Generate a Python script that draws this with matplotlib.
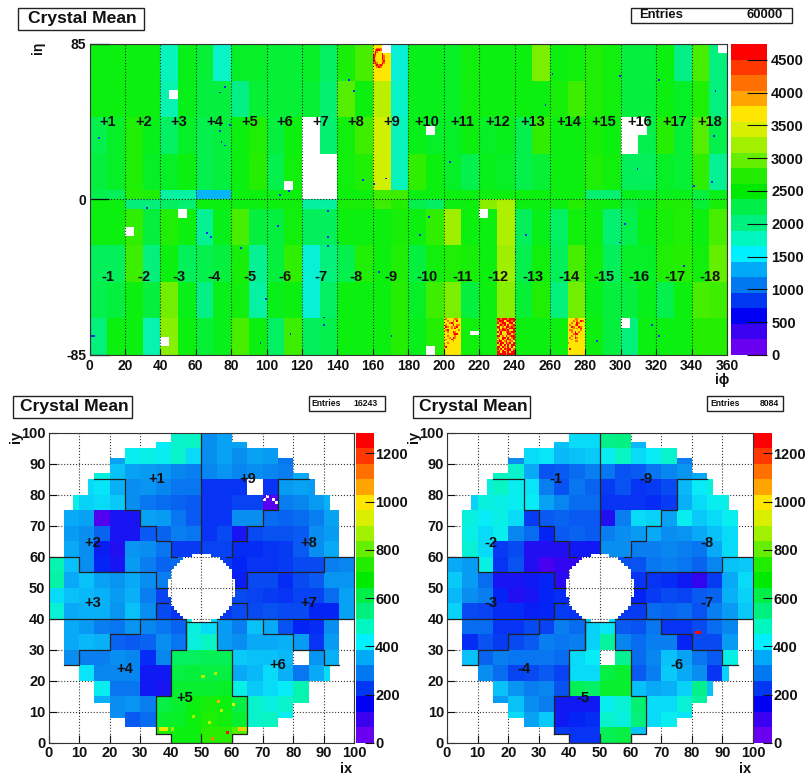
import matplotlib
matplotlib.use('Agg')
import matplotlib.pyplot as plt, numpy as np
from matplotlib.colors import ListedColormap, BoundaryNorm, LinearSegmentedColormap, Normalize
from matplotlib.patches import Rectangle

W, H = 806, 775
plt.rcParams['font.family'] = ['Liberation Sans', 'DejaVu Sans']
plt.rcParams['font.weight'] = 'bold'
plt.rcParams['axes.unicode_minus'] = False

palette = ['#6a00f0', '#3a00f0', '#0000f5', '#0038f2', '#0078f0', '#00aaf8', '#00f0ff', '#00f8c0',
           '#00f080', '#00ee48', '#00ea00', '#22ec00', '#66ee00', '#a0f000', '#d8f000', '#ffe600',
           '#ffa400', '#ff7000', '#ff3800', '#ff0000']
# the same palette as it looks once noisy crystals are averaged by eye (used on the maps only)
map_palette = ['#6a00f0', '#3a00f0', '#0420f5', '#0850f2', '#0888f0', '#08b4f8', '#08ecf8', '#08f4c0',
               '#04f084', '#04f04c', '#08f010', '#28ee00', '#66ee00', '#a0f000', '#d8f000', '#ffe600',
               '#ffa400', '#ff7000', '#ff3800', '#ff0000']

# barrel: mean per half supermodule (10 phi wide), one list per eta band, top to bottom
eta_edges = [85, 65, 45, 25, 5, 0, -5, -25, -45, -65, -85]
eb_p65 = [2500, 2500, 2500, 2500, 1780, 2450, 2350, 1750, 2400, 2400, 2350, 2350, 2400, 2150, 2600, 2850, 3500, 1700,
          2450, 2450, 2400, 2550, 2500, 2500, 2500, 3050, 2500, 2550, 2650, 2550, 2300, 2300, 2500, 2000, 2850, 2050]
eb_p45 = [2500, 2500, 2500, 2500, 1850, 2450, 2300, 2300, 2000, 2350, 2350, 2350, 2350, 2100, 2900, 2500, 3300, 1750,
          2450, 2450, 2400, 2550, 2500, 2500, 2500, 2500, 2600, 2800, 2650, 2550, 2300, 2300, 2500, 2400, 2650, 2050]
eb_p25 = [2250, 2400, 2650, 2450, 2150, 2400, 2250, 2300, 2500, 2650, 2300, 2500, 2400, 2100, 2550, 2800, 3400, 1800,
          2450, 2400, 2400, 2500, 2400, 2450, 2250, 2750, 2500, 2500, 2600, 2500, 2200, 2250, 2700, 2350, 2900, 2250]
eb_p05 = [2300, 2400, 2650, 2400, 2400, 2500, 2250, 2300, 2500, 2700, 2250, 2550, 2350, 2100, 2550, 2650, 3400, 1800,
          2750, 2500, 2400, 2250, 2450, 2400, 2250, 2350, 2500, 2500, 2650, 2550, 2200, 2200, 2400, 2350, 2750, 1950]
eb_p00 = [2250, 2200, 2700, 2650, 1900, 1900, 1300, 1300, 2500, 2500, 2450, 2500, 2400, 2400, 2500, 2500, 2800, 2800,
          2500, 2500, 2500, 2500, 2500, 2500, 2500, 2500, 2500, 2500, 2100, 2100, 2450, 2400, 2450, 2450, 2300, 2450]
eb_m00 = [2500, 2500, 2050, 2050, 2150, 2100, 2500, 2500, 2500, 2500, 2500, 2550, 1900, 1900, 2600, 2600, 2800, 2700,
          2250, 2150, 2500, 2500, 3100, 3250, 2500, 2500, 2500, 2700, 2550, 2500, 2300, 2400, 2650, 2650, 2350, 2600]
eb_m05 = [2500, 2500, 2750, 2300, 2650, 2500, 1950, 2450, 2850, 2300, 2300, 2550, 2200, 2200, 2500, 2500, 2500, 2600,
          2500, 2750, 3200, 2500, 2500, 3250, 2200, 2450, 2150, 2550, 2500, 2100, 2250, 2450, 2600, 2650, 2500, 2850]
eb_m25 = [2200, 2200, 2800, 2050, 2500, 2200, 2250, 2300, 2600, 1950, 2300, 2750, 1700, 2050, 2250, 2650, 2500, 2650,
          2300, 2550, 2650, 2600, 2500, 3200, 2250, 2550, 2200, 2850, 2550, 2200, 2400, 2400, 2650, 2700, 2550, 2950]
eb_m45 = [2250, 2300, 2500, 2300, 3000, 2450, 2000, 2450, 2550, 1900, 2450, 2500, 1700, 2150, 2500, 2500, 2500, 2700,
          2400, 2800, 3050, 2300, 2500, 3100, 2350, 2650, 2050, 3000, 2450, 2300, 2300, 2450, 2250, 2500, 2850, 2800]
eb_m65 = [2050, 2500, 2500, 1850, 3100, 2500, 2350, 2450, 2850, 2500, 2150, 2800, 2200, 2250, 2500, 2500, 2500, 2700,
          2450, 2700, 3400, 2550, 2500, 4000, 2500, 2500, 2500, 3200, 2500, 2300, 2050, 2500, 2500, 2500, 2700, 2700]

# barrel crystals that stand out (digit: 7 yellow, 8 orange, 9 red)
digit_value = {'7': 3650, '8': 4150, '9': 4650}
hot_phi = [160, 200, 230, 270]
hot_eta = [85, -65, -65, -65]
hot_160 = ['7777700000', '7777700000', '7788800000', '7899877777', '7987797777', '8977797777', '9877798777', '9777798777',
           '9777798777', '9877789777', '8987798777', '7898987777', '7789877777', '7777777777', '7777777777', '7777777777',
           '7777777777', '7777777777', '7777777777', '7777777777']
hot_200 = ['7877778877', '7787787977', '7778987777', '7877797887', '7987878977', '8777879777', '7897777787', '7787798777',
           '7777789977', '7787778777', '7778798777', '7877987777', '7777787777', '7787777777', '8777777777', '7977777777',
           '7777777777', '7777777777', '7777777777', '7777777777']
hot_230 = ['9989998999', '8999789989', '9789977997', '7898979789', '9978799898', '8979897999', '7989989779', '9797789899',
           '7897779978', '9978797899', '8779979789', '7979789979', '8997897887', '9799798979', '7897979799', '9979879797',
           '9797989978', '8979789979', '9979979799', '9999989999']
hot_270 = ['7777887777', '7778787987', '7787798777', '7877897777', '7798779877', '7778787977', '7887777877', '7787978777',
           '7778997777', '7787877777', '7877987777', '7787777777', '7777887777', '8777777777', '7777777777', '7777777777',
           '7977777777', '7777777777', '7777777777', '7777777777']
low_phi = [5, 76, 73, 79, 73, 74, 76, 146, 149, 154, 167, 160, 107, 112, 261, 299, 321, 257, 203, 309, 353, 352, 341, 351,
           32, 66, 68, 85, 106, 134, 134, 134, 140, 99, 113, 132, 132, 96, 163, 170, 0, 1, 2, 191, 186, 246, 240, 302, 299, 335, 317, 321, 286]
low_eta = [33, 61, 58, 40, 37, 31, 29, 65, 59, 10, 11, 8, 2, 4, 68, 67, 65, 51, 20, 16, 59, 34, 7, 9,
           -5, -19, -21, -27, -15, -7, -21, -26, -24, -55, -74, -65, -69, -79, -40, -75, -75, -75, -75, -10, -20, -20, -29, -14, -24, -37, -69, -75, -78]
# barrel holes: phi from, phi to, eta from, eta to
dead_phi0 = [45, 120, 120, 130, 165, 110, 190, 355, 300, 310, 50, 20, 40, 220, 215, 190, 300]
dead_phi1 = [50, 130, 130, 140, 170, 115, 195, 360, 310, 315, 55, 25, 45, 225, 220, 195, 305]
dead_eta0 = [55, 25, 0, 0, 80, 5, 35, 80, 25, 35, -10, -20, -80, -10, -74, -85, -70]
dead_eta1 = [60, 45, 25, 25, 85, 10, 40, 85, 45, 45, -5, -15, -75, -5, -72, -80, -65]

eb_phi_ticks = list(range(0, 361, 20))
eb_plus_x = [10 + 20 * i for i in range(18)]
sm_plus = ['+%d' % (i + 1) for i in range(18)]
sm_minus = ['-%d' % (i + 1) for i in range(18)]

# endcaps: mean per 5x5 block, rows from y=95-100 down to y=0-5
ee_plus = [
    [0, 0, 0, 0, 0, 0, 0, 420, 470, 480, 300, 330, 330, 0, 0, 0, 0, 0, 0, 0],
    [0, 0, 0, 0, 330, 430, 440, 430, 470, 400, 300, 330, 300, 330, 320, 270, 0, 0, 0, 0],
    [0, 0, 0, 450, 370, 330, 320, 310, 290, 280, 290, 310, 290, 300, 290, 280, 340, 0, 0, 0],
    [0, 0, 400, 410, 350, 300, 310, 290, 270, 270, 190, 190, 190, 190, 190, 320, 330, 320, 0, 0],
    [0, 440, 390, 400, 380, 300, 270, 260, 250, 240, 190, 190, 210, 210, 60, 280, 290, 320, 350, 0],
    [0, 340, 330, 70, 140, 140, 330, 320, 270, 240, 190, 190, 300, 300, 260, 250, 260, 280, 330, 0],
    [0, 320, 300, 250, 140, 140, 240, 250, 280, 270, 190, 220, 140, 220, 230, 230, 240, 300, 320, 0],
    [0, 340, 300, 160, 130, 310, 300, 270, 200, 200, 210, 210, 180, 180, 190, 200, 240, 300, 340, 0],
    [500, 370, 300, 170, 140, 320, 280, 250, 260, 260, 200, 200, 170, 190, 190, 200, 220, 220, 280, 290],
    [510, 340, 370, 330, 310, 340, 300, 280, 200, 200, 200, 200, 160, 220, 220, 180, 220, 240, 310, 310],
    [400, 370, 360, 350, 320, 350, 280, 210, 200, 200, 200, 200, 220, 210, 200, 190, 210, 210, 260, 330],
    [460, 340, 350, 350, 310, 370, 300, 220, 190, 190, 200, 200, 220, 220, 230, 220, 220, 170, 170, 330],
    [0, 340, 320, 280, 270, 310, 290, 270, 250, 450, 400, 320, 280, 370, 340, 230, 170, 180, 300, 0],
    [0, 340, 360, 350, 250, 240, 250, 300, 270, 450, 480, 320, 300, 340, 340, 350, 320, 190, 320, 0],
    [0, 300, 280, 280, 300, 290, 180, 290, 590, 590, 600, 600, 380, 370, 370, 360, 0, 310, 350, 0],
    [0, 0, 410, 290, 290, 290, 150, 150, 620, 630, 620, 620, 340, 360, 400, 350, 270, 340, 400, 0],
    [0, 0, 0, 430, 270, 270, 150, 140, 640, 640, 640, 650, 440, 380, 400, 420, 500, 0, 0, 0],
    [0, 0, 0, 350, 300, 310, 280, 620, 640, 680, 700, 680, 620, 470, 450, 470, 500, 0, 0, 0],
    [0, 0, 0, 0, 300, 240, 260, 640, 650, 680, 720, 690, 640, 470, 480, 430, 0, 0, 0, 0],
    [0, 0, 0, 0, 0, 0, 0, 720, 680, 680, 740, 740, 780, 640, 0, 0, 0, 0, 0, 0]]
ee_minus = [
    [0, 0, 0, 0, 0, 0, 0, 370, 400, 400, 540, 550, 360, 0, 0, 0, 0, 0, 0, 0],
    [0, 0, 0, 0, 300, 400, 410, 360, 370, 380, 430, 480, 400, 420, 470, 280, 0, 0, 0, 0],
    [0, 0, 0, 480, 470, 340, 230, 240, 260, 280, 270, 230, 240, 270, 290, 310, 340, 0, 0, 0],
    [0, 0, 450, 480, 430, 410, 280, 230, 270, 250, 200, 230, 190, 200, 220, 360, 420, 450, 0, 0],
    [0, 390, 450, 440, 430, 420, 330, 290, 260, 260, 190, 190, 190, 180, 200, 350, 400, 430, 440, 0],
    [0, 450, 420, 440, 400, 200, 240, 250, 240, 240, 130, 280, 400, 390, 330, 430, 380, 400, 430, 0],
    [0, 440, 400, 430, 290, 260, 170, 240, 250, 240, 280, 300, 320, 340, 300, 310, 340, 370, 400, 0],
    [0, 460, 400, 200, 220, 130, 130, 130, 150, 150, 300, 300, 280, 280, 290, 280, 270, 340, 400, 0],
    [340, 320, 440, 190, 230, 130, 80, 110, 110, 110, 230, 230, 230, 270, 280, 270, 250, 290, 370, 380],
    [380, 320, 260, 140, 140, 150, 170, 120, 120, 120, 190, 190, 190, 190, 180, 150, 110, 200, 340, 400],
    [360, 300, 280, 170, 130, 140, 170, 180, 180, 180, 170, 170, 170, 200, 220, 210, 240, 250, 350, 390],
    [390, 220, 210, 180, 180, 160, 170, 200, 190, 190, 200, 200, 200, 260, 250, 260, 230, 280, 320, 380],
    [0, 260, 260, 190, 190, 220, 210, 280, 260, 390, 410, 240, 230, 270, 190, 190, 220, 260, 290, 0],
    [0, 180, 230, 200, 220, 240, 280, 270, 280, 390, 520, 290, 260, 280, 280, 170, 220, 220, 320, 0],
    [0, 370, 250, 280, 270, 270, 270, 260, 400, 420, 0, 530, 260, 290, 370, 330, 270, 240, 440, 0],
    [0, 0, 300, 260, 210, 220, 240, 210, 400, 400, 620, 640, 240, 280, 380, 340, 300, 190, 390, 0],
    [0, 0, 0, 370, 310, 280, 290, 230, 600, 580, 640, 640, 370, 340, 350, 390, 540, 370, 0, 0],
    [0, 0, 0, 320, 370, 300, 280, 150, 150, 150, 430, 460, 570, 400, 400, 460, 520, 0, 0, 0],
    [0, 0, 0, 0, 400, 330, 380, 150, 170, 180, 470, 450, 560, 400, 430, 410, 0, 0, 0, 0],
    [0, 0, 0, 0, 0, 0, 0, 200, 190, 190, 600, 620, 370, 400, 0, 0, 0, 0, 0, 0]]
# single endcap crystals that stand out
ee_plus_hot_x = [36, 37, 38, 40, 58, 53, 62, 63, 47, 55, 60, 56, 64, 52, 50, 54]
ee_plus_hot_y = [4, 4, 4, 4, 3, 1, 4, 4, 8, 13, 12, 10, 4, 6, 21, 22]
ee_plus_hot_v = [960, 960, 960, 860, 1240, 1100, 1020, 1020, 880, 1050, 950, 900, 900, 900, 880, 880]
ee_minus_hot_x = [81, 82]
ee_minus_hot_y = [35, 35]
ee_minus_hot_v = [1240, 1240]
# outer edge of the endcap: half width from x=50 for each band of distance from y=50
rim_dy = [50, 47, 45, 42, 37, 35, 30, 25, 15, 10]
rim_hw = [10, 15, 25, 30, 35, 37, 42, 45, 47, 50]
# sector boundaries, one polyline each (x list, y list)
sector_x = [[50, 50], [50, 50], [15, 25, 25, 30, 30, 35, 35, 40, 40, 42], [0, 10, 10, 35, 35, 39],
            [0, 35, 35, 39], [5, 10, 10, 20, 20, 30, 30, 45, 45], [35, 35, 40, 40, 45, 45, 55, 55, 60, 60, 65, 65, 60, 60, 40, 40, 35],
            [55, 70, 70, 80, 80, 90, 90, 95], [61, 65, 65, 90, 90, 100], [60, 65, 65, 100], [58, 60, 60, 65, 65, 70, 70, 75, 75, 85]]
sector_y = [[61, 100], [0, 3], [85, 85, 75, 75, 70, 70, 65, 65, 60, 60], [60, 60, 55, 55, 50, 50],
            [40, 40, 45, 45], [25, 25, 30, 30, 35, 35, 40, 40, 30], [3, 15, 15, 30, 30, 39, 39, 30, 30, 15, 15, 3, 3, 0, 0, 3, 3],
            [40, 40, 35, 35, 30, 30, 25, 25], [50, 50, 55, 55, 60, 60], [45, 45, 40, 40], [60, 60, 65, 65, 70, 70, 75, 75, 85, 85]]
ee_plus_labels = ['+1', '+2', '+3', '+4', '+5', '+6', '+7', '+8', '+9']
ee_minus_labels = ['-1', '-2', '-3', '-4', '-5', '-6', '-7', '-8', '-9']
ee_label_x = [35.5, 14.5, 14.5, 25, 44.5, 75, 85, 85, 65]
ee_label_y = [85, 64.5, 45, 24, 14.5, 25, 45, 64.5, 85]
ee_plus_dead_x = [65, 66, 67, 68, 69, 70, 71, 73, 74, 80, 81, 82, 83, 84, 85, 86]
ee_plus_dead_y = [80, 80, 80, 80, 80, 78, 79, 78, 77, 25, 25, 25, 25, 25, 15, 15]

eb_ticks = [0, 500, 1000, 1500, 2000, 2500, 3000, 3500, 4000, 4500]
ee_ticks = [0, 200, 400, 600, 800, 1000, 1200]
ee_axis_ticks = list(range(0, 101, 10))


def px_axes(fig, left, top, right, bottom):
    return fig.add_axes([left / W, 1 - bottom / H, (right - left) / W, (bottom - top) / H])


def box_text(fig, x0, y0, x1, y1, txt, size, pad=10):
    fig.add_artist(Rectangle((x0 / W, 1 - y1 / H), (x1 - x0) / W, (y1 - y0) / H, transform=fig.transFigure,
                             fc='white', ec='#222222', lw=1))
    fig.text((x0 + pad) / W, 1 - (y0 + y1) / 2 / H, txt, fontsize=size, va='center', color='#111111')


def entries(fig, x0, y0, x1, y1, n, size, pad, inset):
    box_text(fig, x0, y0, x1, y1, 'Entries', size, pad=pad)
    fig.text((x1 - inset) / W, 1 - (y0 + y1) / 2 / H, n, fontsize=size, va='center', ha='right', color='#111111')


def smooth_map():
    # tower means stand for a mix of noisy crystals, so the map blends the palette
    stops = [(i + 0.5) / 20 for i in range(20)]
    return LinearSegmentedColormap.from_list('mix', [(0, map_palette[0])] + list(zip(stops, map_palette)) + [(1, map_palette[-1])])


def colorbar(fig, rect, edges, ticks, tick_len, size, pad):
    ax = px_axes(fig, *rect)
    ax.pcolormesh([0, 1], edges, np.array(edges[:-1]).reshape(-1, 1) + 1,
                  cmap=ListedColormap(palette), norm=BoundaryNorm(edges, 20))
    ax.set_ylim(edges[0], edges[-1])
    ax.set_xticks([])
    ax.yaxis.tick_right()
    ax.set_yticks(ticks)
    ax.tick_params(axis='y', direction='in', length=tick_len * 0.72, width=0.8, pad=pad, labelsize=size, colors='#111111')
    for s in ax.spines.values():
        s.set_visible(False)


def draw_barrel(fig):
    grid = np.zeros((170, 360))
    rows = [eb_p65, eb_p45, eb_p25, eb_p05, eb_p00, eb_m00, eb_m05, eb_m25, eb_m45, eb_m65]
    for r, vals in enumerate(rows):
        i0, i1 = eta_edges[r + 1] + 85, eta_edges[r] + 85
        for c, v in enumerate(vals):
            grid[i0:i1, c * 10:c * 10 + 10] = v
    for phi, top, block in zip(hot_phi, hot_eta, [hot_160, hot_200, hot_230, hot_270]):
        for r, line in enumerate(block):
            for c, ch in enumerate(line):
                if ch != '0':
                    grid[top + 85 - 1 - r, phi + c] = digit_value[ch]
    for p, e in zip(low_phi, low_eta):
        grid[e + 85, p] = 650
    mask = np.zeros(grid.shape, bool)
    for p0, p1, e0, e1 in zip(dead_phi0, dead_phi1, dead_eta0, dead_eta1):
        mask[e0 + 85:e1 + 85, p0:p1] = True
    edges = [237 * i for i in range(21)]

    ax = px_axes(fig, 89.5, 44, 727, 355)
    ax.pcolormesh(np.arange(361), np.arange(-85, 86), np.ma.array(grid, mask=mask), cmap=smooth_map(),
                  norm=Normalize(0, edges[-1]))
    ax.set_xlim(0, 360)
    ax.set_ylim(-85, 85)
    ax.set_xticks(eb_phi_ticks)
    ax.set_yticks([-85, 0, 85])
    ax.grid(True, color='#222222', ls=':', lw=0.8)
    ax.tick_params(axis='x', direction='in', length=4, width=0.8, pad=3, labelsize=10, colors='#111111')
    ax.tick_params(axis='y', direction='in', length=14, width=0.9, pad=2.5, labelsize=10, colors='#111111')
    for s in ax.spines.values():
        s.set_color('#333333')
    for x, a, b in zip(eb_plus_x, sm_plus, sm_minus):
        ax.text(x + 0.5, 42.5, a, fontsize=10.5, ha='center', va='center', color='#111111')
        ax.text(x + 0.5, -42.5, b, fontsize=10.5, ha='center', va='center', color='#111111')
    colorbar(fig, (731, 44, 767, 355), edges, eb_ticks, 20, 10.5, 3)
    fig.text(38 / W, 1 - 48 / H, 'iη', rotation=90, fontsize=10, ha='center', va='center', color='#111111')
    fig.text(722 / W, 1 - 380 / H, 'iϕ', fontsize=10, ha='center', va='center', color='#111111')


def draw_endcap(fig, left, vals, labels, dead_x, dead_y, hot_x, hot_y, hot_v, cbar_left):
    grid = np.repeat(np.repeat(np.array(vals, float)[::-1], 5, axis=0), 5, axis=1)
    yy, xx = np.mgrid[0:100, 0:100]
    xc, yc = xx + 0.5 - 50, yy + 0.5 - 50
    mask = grid <= 0
    mask |= xc ** 2 + yc ** 2 < 11 ** 2
    hw = np.zeros(100)
    for d, w in zip(rim_dy, rim_hw):
        hw[np.abs(yc[:, 0]) < d] = w
    mask |= np.abs(xc) > hw[:, None]
    for x, y in zip(dead_x, dead_y):
        if y in (80, 25, 15):
            mask[y:y + 5, x] = True
        else:
            mask[y, x] = True
    for x, y, v in zip(hot_x, hot_y, hot_v):
        grid[y, x] = v
    edges = [64.3 * i for i in range(21)]

    ax = px_axes(fig, left, 432.7, left + 306, 743)
    ax.pcolormesh(np.arange(101), np.arange(101), np.ma.array(grid, mask=mask), cmap=smooth_map(),
                  norm=Normalize(0, edges[-1]), zorder=2)
    ax.set_xlim(0, 100)
    ax.set_ylim(0, 100)
    ax.set_xticks(ee_axis_ticks)
    ax.set_yticks(ee_axis_ticks)
    ax.set_axisbelow(True)
    ax.grid(True, color='#333333', ls=':', lw=0.8, zorder=1)
    ax.tick_params(direction='in', length=6, width=0.8, pad=2.2, labelsize=10.5, colors='#111111')
    for s in ax.spines.values():
        s.set_color('#333333')
        s.set_zorder(5)
    for xs, ys in zip(sector_x, sector_y):
        ax.plot(xs, ys, color='#222222', lw=0.9, zorder=3)
    for x, y, t in zip(ee_label_x, ee_label_y, labels):
        ax.text(x, y, t, fontsize=10.5, ha='center', va='center', color='#111111', zorder=4)
    colorbar(fig, (cbar_left, 432.7, cbar_left + 18, 743), edges, ee_ticks, 9, 10.5, 0.8)
    fig.text((left - 33) / W, 1 - 437 / H, 'iy', rotation=90, fontsize=10.5, ha='center', va='center', color='#111111')
    fig.text((left + 298) / W, 1 - 769 / H, 'ix', fontsize=10.5, ha='center', va='center', color='#111111')


if __name__ == "__main__":
    fig = plt.figure(figsize=(W / 100, H / 100), dpi=100)
    draw_barrel(fig)
    draw_endcap(fig, 48.5, ee_plus, ee_plus_labels, ee_plus_dead_x, ee_plus_dead_y,
                ee_plus_hot_x, ee_plus_hot_y, ee_plus_hot_v, 356)
    draw_endcap(fig, 447, ee_minus, ee_minus_labels, [], [], ee_minus_hot_x, ee_minus_hot_y, ee_minus_hot_v, 754)
    box_text(fig, 17.5, 8, 144, 29.5, 'Crystal Mean', 12.6)
    box_text(fig, 13.5, 396, 131.5, 417.5, 'Crystal Mean', 12.6, pad=7)
    box_text(fig, 412.5, 396, 530, 417.5, 'Crystal Mean', 12.6, pad=6)
    entries(fig, 631, 8, 791.5, 23, '60000', 9.4, 8, 8.8)
    entries(fig, 308.5, 396, 385, 411, '16243', 6.2, 3.3, 7.3)
    entries(fig, 706.7, 396, 783.3, 411, '8084', 6.2, 3.3, 4.3)
    fig.savefig('out.png', dpi=100)
